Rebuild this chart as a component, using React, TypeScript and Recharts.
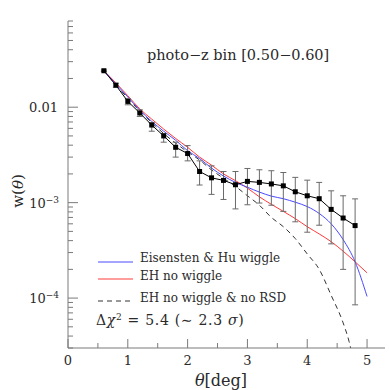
import React from 'react';
import { ComposedChart, Line, XAxis, YAxis, ErrorBar } from 'recharts';

// measured w(theta) with error bars, photo-z bin [0.50-0.60]
const thetaObs = [0.6, 0.8, 1.0, 1.2, 1.4, 1.6, 1.8, 2.0, 2.2, 2.4, 2.6, 2.8, 3.0, 3.2, 3.4, 3.6, 3.8, 4.0, 4.2, 4.4, 4.6, 4.8];
const wObs = [0.0241, 0.017, 0.0115, 0.0087, 0.0065, 0.005, 0.0038, 0.00327, 0.00212, 0.00182, 0.00171, 0.00154, 0.00167, 0.00163, 0.00157, 0.0015, 0.0013, 0.00118, 0.0011, 0.00085, 0.00069, 0.000575];
const errLo = [0.0004, 0.0008, 0.0009, 0.0007, 0.0009, 0.0007, 0.0008, 0.00053, 0.00059, 0.0006, 0.00063, 0.00068, 0.00072, 0.00064, 0.00063, 0.00069, 0.00067, 0.00069, 0.00052, 0.00048, 0.00049, 0.00049];
const errHi = [0.0004, 0.0008, 0.0008, 0.0007, 0.0004, 0.0003, 0.0005, 0.00069, 0.00062, 0.00061, 0.00041, 0.00058, 0.00061, 0.00058, 0.00059, 0.00057, 0.00054, 0.00054, 0.00053, 0.00048, 0.00049, 0.00052];

// model curves
const thetaModel = [0.6, 0.8, 1.0, 1.2, 1.4, 1.6, 1.8, 2.0, 2.2, 2.4, 2.6, 2.8, 3.0, 3.2, 3.4, 3.6, 3.8, 4.0, 4.2, 4.4, 4.6, 4.8, 5.0];
const wWiggle = [0.0241, 0.0175, 0.0128, 0.0093, 0.0071, 0.0056, 0.0045, 0.0035, 0.0029, 0.0023, 0.0019, 0.00163, 0.00145, 0.00129, 0.00117, 0.0011, 0.00101, 0.00091, 0.00077, 0.0006, 0.00041, 0.00024, 0.000104];
const wNoWiggle = [0.0242, 0.018, 0.0132, 0.0096, 0.0075, 0.0059, 0.0047, 0.0038, 0.003, 0.00247, 0.002, 0.0017, 0.00142, 0.00115, 0.00096, 0.00081, 0.00068, 0.00056, 0.00047, 0.00039, 0.00031, 0.00024, 0.000184];
const thetaNoRsd = [0.6, 0.8, 1.0, 1.2, 1.4, 1.6, 1.8, 2.0, 2.2, 2.4, 2.6, 2.8, 3.0, 3.2, 3.4, 3.6, 3.8, 4.0, 4.2, 4.4, 4.6, 4.7, 4.8];
const wNoRsd = [0.0241, 0.0172, 0.0124, 0.0091, 0.0069, 0.0053, 0.0042, 0.0034, 0.0028, 0.0022, 0.0018, 0.00148, 0.00118, 0.00094, 0.0007, 0.00056, 0.00042, 0.00029, 0.0002, 0.000107, 0.000055, 0.000035, 0.000018];

const xTicks = [0, 0.5, 1, 1.5, 2, 2.5, 3, 3.5, 4, 4.5, 5];
const xLabels = [0, 1, 2, 3, 4, 5];
const decades = [1e-5, 1e-4, 1e-3, 1e-2];
const mantissas = [1, 2, 3, 4, 5, 6, 7, 8, 9];

const Y_MIN = 3e-5;
const Y_MAX = 0.08;
const yTicks = decades
  .flatMap(d => mantissas.map(m => +(m * d).toPrecision(3)))
  .filter(v => v >= Y_MIN * 0.999 && v <= Y_MAX * 1.001);

const obsData = thetaObs.map((t, i) => ({ x: t, w: wObs[i], err: [errLo[i], errHi[i]] }));
const wiggleData = thetaModel.map((t, i) => ({ x: t, w: wWiggle[i] }));
const noWiggleData = thetaModel.map((t, i) => ({ x: t, w: wNoWiggle[i] }));
const noRsdData = thetaNoRsd.map((t, i) => ({ x: t, w: wNoRsd[i] }));

const AXIS = '#7a7a7a';
const TEXT = '#2a2a2a';
const FONT = '"DejaVu Serif", serif';
const BLUE = '#4a4aff';
const RED = '#ff3a3a';

const isDecade = (v: number) => Math.abs(Math.log10(v) - Math.round(Math.log10(v))) < 1e-6;

const LeftTick = ({ x, y, payload }: any) => {
  const v = payload.value;
  const major = isDecade(v);
  const e = Math.round(Math.log10(v));
  return (
    <g>
      <line x1={x} x2={x + (major ? 10 : 5)} y1={y} y2={y} stroke={AXIS} />
      {major && e === -2 && (
        <text x={x - 10} y={y + 5} textAnchor="end" fontSize={13} fill={TEXT} fontFamily={FONT}>0.01</text>
      )}
      {major && e !== -2 && (
        <text x={x - 9} y={y + 5} textAnchor="end" fontSize={13} fill={TEXT} fontFamily={FONT}>
          10<tspan dy={-5} fontSize={9}>{'\u2212' + -e}</tspan>
        </text>
      )}
    </g>
  );
};

const RightTick = ({ x, y, payload }: any) => {
  const major = isDecade(payload.value);
  return <line x1={x} x2={x - (major ? 10 : 5)} y1={y} y2={y} stroke={AXIS} />;
};

const BottomTick = ({ x, y, payload }: any) => {
  const v = payload.value;
  const major = xLabels.includes(v);
  return (
    <g>
      <line x1={x} x2={x} y1={y} y2={y - (major ? 9 : 5)} stroke={AXIS} />
      {major && (
        <text x={x} y={y + 17} textAnchor="middle" fontSize={13} fill={TEXT} fontFamily={FONT}>{v}</text>
      )}
    </g>
  );
};

const TopTick = ({ x, y, payload }: any) => {
  const major = xLabels.includes(payload.value);
  return <line x1={x} x2={x} y1={y} y2={y + (major ? 9 : 4)} stroke={AXIS} />;
};

const SquareDot = (p: any) => (
  <rect key={`sq-${p.index}`} x={p.cx - 2.5} y={p.cy - 2.5} width={5} height={5} fill="#000" />
);

export default function App() {
  return (
    <div style={{ position: 'absolute', left: 0, top: 0, width: 390, height: 390, background: '#fff' }}>
      <ComposedChart width={390} height={390} margin={{ top: 21, right: 5, bottom: 0, left: 0 }}>
        <XAxis
          xAxisId="b" type="number" dataKey="x" domain={[0, 5.3]} ticks={xTicks} interval={0}
          height={42} tickSize={0} tickMargin={0} tickLine={false} axisLine={{ stroke: AXIS }}
          tick={<BottomTick />} allowDataOverflow
        />
        <XAxis
          xAxisId="t" orientation="top" type="number" dataKey="x" domain={[0, 5.3]} ticks={xTicks} interval={0}
          height={0} tickSize={0} tickMargin={0} tickLine={false} axisLine={{ stroke: AXIS }}
          tick={<TopTick />} allowDataOverflow
        />
        <YAxis
          yAxisId="l" type="number" scale="log" domain={[Y_MIN, Y_MAX]} ticks={yTicks} interval={0}
          width={68} tickSize={0} tickMargin={0} tickLine={false} axisLine={{ stroke: AXIS }}
          tick={<LeftTick />} allowDataOverflow
        />
        <YAxis
          yAxisId="r" orientation="right" type="number" scale="log" domain={[Y_MIN, Y_MAX]} ticks={yTicks} interval={0}
          width={0} tickSize={0} tickMargin={0} tickLine={false} axisLine={{ stroke: AXIS }}
          tick={<RightTick />} allowDataOverflow
        />

        <Line
          xAxisId="b" yAxisId="l" data={noRsdData} dataKey="w" type="monotone"
          stroke="#333" strokeWidth={1} strokeDasharray="5 4" dot={false} isAnimationActive={false}
        />
        <Line
          xAxisId="b" yAxisId="l" data={noWiggleData} dataKey="w" type="monotone"
          stroke={RED} strokeWidth={1} dot={false} isAnimationActive={false}
        />
        <Line
          xAxisId="b" yAxisId="l" data={wiggleData} dataKey="w" type="monotone"
          stroke={BLUE} strokeWidth={1} dot={false} isAnimationActive={false}
        />
        <Line
          xAxisId="b" yAxisId="l" data={obsData} dataKey="w" type="linear"
          stroke="#000" strokeWidth={1} dot={SquareDot} activeDot={false} isAnimationActive={false}
        >
          <ErrorBar dataKey="err" direction="y" width={3} stroke="#6a6a6a" strokeWidth={1} isAnimationActive={false} />
        </Line>
      </ComposedChart>

      <svg width={390} height={390} style={{ position: 'absolute', left: 0, top: 0, pointerEvents: 'none' }}
        fontFamily={FONT} fill={TEXT}>
        <text x={147} y={60} fontSize={14.5}>photo{'\u2212'}z bin [0.50{'\u2212'}0.60]</text>

        <line x1={98} x2={133} y1={262} y2={262} stroke={BLUE} />
        <text x={140} y={262} fontSize={12}>Eisensten &amp; Hu wiggle</text>
        <line x1={98} x2={133} y1={279} y2={279} stroke={RED} />
        <text x={140} y={280} fontSize={12}>EH no wiggle</text>
        <line x1={98} x2={133} y1={301} y2={301} stroke="#333" strokeDasharray="5 4" />
        <text x={140} y={302} fontSize={12}>EH no wiggle &amp; no RSD</text>

        <text x={96} y={325} fontSize={14} letterSpacing={0.7}>
          Δ<tspan fontStyle="italic">χ</tspan><tspan dy={-5} fontSize={9}>2</tspan>
          <tspan dy={5}> = 5.4 (∼ 2.3 </tspan><tspan fontStyle="italic">σ</tspan>)
        </text>

        <text x={221} y={386} fontSize={16} textAnchor="middle">
          <tspan fontStyle="italic">θ</tspan>[deg]
        </text>
        <text x={23} y={191} fontSize={15} textAnchor="middle" transform="rotate(-90 23 191)">
          w(<tspan fontStyle="italic">θ</tspan>)
        </text>
      </svg>
    </div>
  );
}
